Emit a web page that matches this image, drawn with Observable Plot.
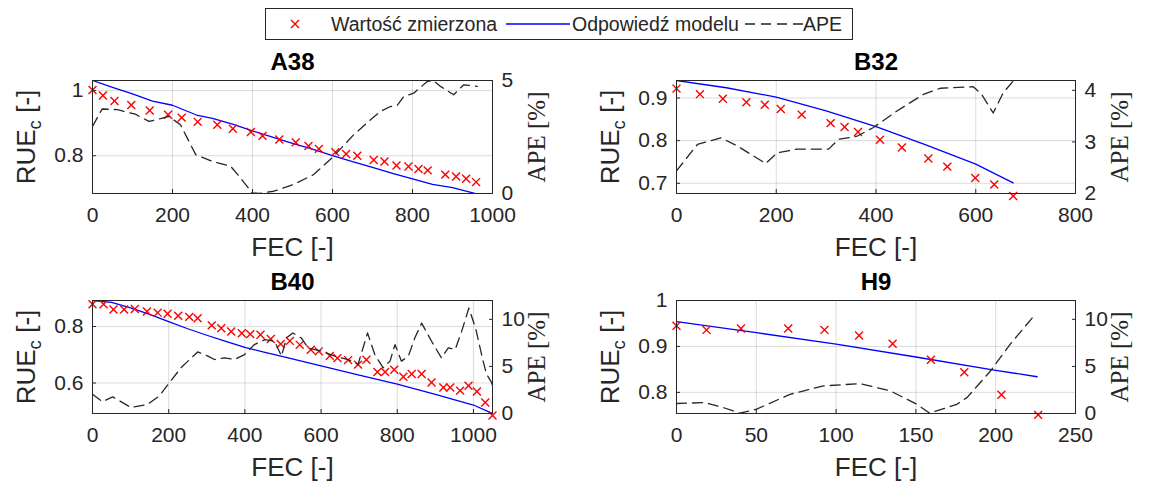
<!DOCTYPE html>
<html><head><meta charset="utf-8">
<script src="https://cdn.jsdelivr.net/npm/d3@7"></script>
<script src="https://cdn.jsdelivr.net/npm/@observablehq/plot@0.6"></script>
<style>
body{margin:0;background:#fff;}
#fig{position:relative;width:1149px;height:486px;background:#fff;font-family:"Liberation Sans",Arial,sans-serif;color:#262626;overflow:hidden;}
#fig svg{position:absolute;}
.leg{position:absolute;font-size:19.5px;line-height:20px;white-space:nowrap;color:#262626;}
</style></head>
<body><div id="fig"></div>
<script>
// ---------- A38 ----------
const a38MeasFec = [0, 26, 55, 97, 143, 189, 223, 263, 312, 351, 396, 425, 467, 508, 540, 566, 607, 634, 662, 703, 730, 760, 790, 815, 838, 882, 909, 934, 959];
const a38MeasRue = [1.002, 0.985, 0.968, 0.956, 0.939, 0.926, 0.917, 0.904, 0.895, 0.883, 0.873, 0.861, 0.850, 0.841, 0.830, 0.821, 0.811, 0.805, 0.800, 0.787, 0.782, 0.770, 0.767, 0.759, 0.755, 0.742, 0.736, 0.729, 0.719];
const a38ModelFec = [0, 50, 100, 150, 200, 260, 300, 350, 400, 450, 500, 550, 600, 650, 700, 750, 800, 850, 900, 960];
const a38ModelRue = [1.031, 1.010, 0.990, 0.968, 0.955, 0.925, 0.915, 0.897, 0.876, 0.857, 0.838, 0.820, 0.800, 0.782, 0.764, 0.746, 0.729, 0.712, 0.702, 0.683];
const a38ApeFec = [0, 24, 62, 107, 141, 170, 191, 220, 258, 303, 345, 370, 399, 416, 453, 503, 553, 603, 653, 695, 720, 745, 762, 778, 803, 837, 853, 870, 903, 928, 962];
const a38Ape = [2.97, 3.74, 3.71, 3.51, 3.19, 3.31, 3.41, 3.04, 1.72, 1.40, 1.21, 0.69, 0.03, 0.0, 0.10, 0.40, 0.84, 1.65, 2.60, 3.26, 3.63, 3.85, 3.90, 4.29, 4.44, 4.96, 4.99, 4.74, 4.37, 4.81, 4.74];

// ---------- B32 ----------
const b32MeasFec = [0, 47, 93, 140, 177, 209, 251, 309, 337, 364, 408, 452, 505, 543, 599, 637, 675];
const b32MeasRue = [0.922, 0.909, 0.898, 0.890, 0.884, 0.874, 0.861, 0.841, 0.832, 0.820, 0.802, 0.784, 0.758, 0.739, 0.7125, 0.697, 0.670];
const b32ModelFec = [0, 100, 200, 300, 400, 500, 600, 675];
const b32ModelRue = [0.941, 0.924, 0.902, 0.870, 0.833, 0.790, 0.745, 0.701];
const b32ApeFec = [0, 42, 89, 122, 179, 202, 242, 305, 325, 362, 395, 442, 495, 529, 595, 612, 635, 655, 675];
const b32Ape = [2.44, 2.95, 3.08, 2.92, 2.58, 2.79, 2.86, 2.86, 3.05, 3.11, 3.28, 3.60, 3.92, 4.04, 4.07, 3.92, 3.56, 3.95, 4.18];

// ---------- B40 ----------
const b40MeasFec = [0, 29, 55, 83, 111, 143, 171, 197, 225, 254, 276, 313, 338, 364, 392, 414, 441, 468, 494, 518, 544, 573, 594, 623, 643, 671, 697, 719, 748, 768, 792, 816, 838, 864, 890, 921, 939, 965, 987, 1009, 1031, 1050];
const b40MeasRue = [0.879, 0.879, 0.860, 0.860, 0.862, 0.853, 0.849, 0.845, 0.838, 0.834, 0.829, 0.804, 0.794, 0.782, 0.776, 0.773, 0.771, 0.756, 0.738, 0.749, 0.735, 0.718, 0.712, 0.696, 0.688, 0.681, 0.665, 0.682, 0.639, 0.639, 0.647, 0.622, 0.632, 0.632, 0.602, 0.584, 0.584, 0.573, 0.590, 0.570, 0.531, 0.485];
const b40ModelFec = [0, 50, 100, 150, 200, 250, 300, 350, 400, 450, 500, 600, 700, 800, 900, 1000, 1050];
const b40ModelRue = [0.892, 0.885, 0.866, 0.843, 0.817, 0.792, 0.769, 0.747, 0.726, 0.709, 0.693, 0.661, 0.628, 0.596, 0.560, 0.522, 0.492];
const b40ApeFec = [0, 26, 53, 79, 101, 145, 175, 202, 232, 276, 303, 320, 346, 373, 399, 425, 452, 478, 496, 509, 526, 548, 566, 601, 636, 671, 697, 722, 741, 763, 781, 794, 811, 829, 846, 864, 890, 916, 934, 952, 969, 988, 1006, 1025, 1034, 1047, 1050];
const b40Ape = [2.04, 1.26, 1.76, 1.16, 0.63, 0.98, 1.86, 3.27, 4.85, 6.54, 6.09, 5.73, 5.91, 5.73, 6.26, 7.32, 7.84, 7.67, 6.09, 8.02, 8.55, 8.02, 6.96, 6.61, 6.09, 5.73, 5.21, 8.55, 6.26, 4.85, 5.56, 7.32, 5.56, 6.09, 8.02, 9.60, 7.67, 5.91, 6.97, 6.79, 8.72, 11.2, 9.0, 5.63, 4.22, 3.34, 3.0];

// ---------- H9 ----------
const h9MeasFec = [0, 18.8, 40.4, 70, 92.7, 114.4, 135.4, 159.4, 180.3, 203.6, 226.6];
const h9MeasRue = [0.945, 0.936, 0.939, 0.939, 0.936, 0.924, 0.906, 0.871, 0.844, 0.795, 0.751];
const h9ModelFec = [0, 50, 100, 150, 200, 226];
const h9ModelRue = [0.954, 0.930, 0.905, 0.877, 0.848, 0.834];
const h9ApeFec = [0, 17.8, 29.3, 39.7, 50.2, 71.1, 92, 115, 134, 150.6, 158.6, 175.7, 182, 196.7, 209, 223.8];
const h9Ape = [1.06, 1.16, 0.63, 0.03, 0.46, 2.04, 2.93, 3.17, 2.40, 0.98, 0.03, 0.98, 1.69, 4.51, 7.34, 10.34];

// ---------- tick labels ----------
const a38XTicks = [0, 200, 400, 600, 800, 1000], a38YTicks = [0.8, 1], a38ApeTicks = [0, 5];
const b32XTicks = [0, 200, 400, 600, 800], b32YTicks = [0.7, 0.8, 0.9], b32ApeTicks = [2, 3, 4];
const b40XTicks = [0, 200, 400, 600, 800, 1000], b40YTicks = [0.6, 0.8], b40ApeTicks = [0, 5, 10];
const h9XTicks = [0, 50, 100, 150, 200, 250], h9YTicks = [0.8, 0.9, 1], h9ApeTicks = [0, 5, 10];

const panelTitles = ["A38", "B32", "B40", "H9"];
const legendLabels = ["Wartość zmierzona", "Odpowiedź modelu", "APE"];
const xLabel = "FEC [-]", yLabel = "RUE_c [-]", apeLabel = "APE [%]";

const zip = (xs, ys, kx, ky) => xs.map((v, i) => ({[kx]: v, [ky]: ys[i]}));

const panels = [
  {title: panelTitles[0], meas: zip(a38MeasFec, a38MeasRue, "fec", "rue"), model: zip(a38ModelFec, a38ModelRue, "fec", "rue"), ape: zip(a38ApeFec, a38Ape, "fec", "ape"),
   xDomain: [0, 1000], yDomain: [0.684, 1.031], apeDomain: [0, 5], xTicks: a38XTicks, yTicks: a38YTicks, apeTicks: a38ApeTicks,
   left: 0, top: 40, width: 574, height: 230, ml: 92, mr: 82, mt: 40, mb: 77},
  {title: panelTitles[1], meas: zip(b32MeasFec, b32MeasRue, "fec", "rue"), model: zip(b32ModelFec, b32ModelRue, "fec", "rue"), ape: zip(b32ApeFec, b32Ape, "fec", "ape"),
   xDomain: [0, 800], yDomain: [0.676, 0.941], apeDomain: [2, 4.19], xTicks: b32XTicks, yTicks: b32YTicks, apeTicks: b32ApeTicks,
   left: 584, top: 40, width: 565, height: 230, ml: 92, mr: 74, mt: 40, mb: 77},
  {title: panelTitles[2], meas: zip(b40MeasFec, b40MeasRue, "fec", "rue"), model: zip(b40ModelFec, b40ModelRue, "fec", "rue"), ape: zip(b40ApeFec, b40Ape, "fec", "ape"),
   xDomain: [0, 1050], yDomain: [0.492, 0.892], apeDomain: [0, 12], xTicks: b40XTicks, yTicks: b40YTicks, apeTicks: b40ApeTicks,
   left: 0, top: 260, width: 574, height: 226, ml: 92, mr: 82, mt: 40, mb: 73},
  {title: panelTitles[3], meas: zip(h9MeasFec, h9MeasRue, "fec", "rue"), model: zip(h9ModelFec, h9ModelRue, "fec", "rue"), ape: zip(h9ApeFec, h9Ape, "fec", "ape"),
   xDomain: [0, 250], yDomain: [0.754, 1.0], apeDomain: [0, 12], xTicks: h9XTicks, yTicks: h9YTicks, apeTicks: h9ApeTicks,
   left: 584, top: 260, width: 565, height: 226, ml: 92, mr: 74, mt: 40, mb: 73}
];

const fig = document.getElementById("fig");
const fmt = d => String(d);
const INK = "#262626";
const mid = {textAnchor: "middle", lineAnchor: "middle"};

for (const p of panels) {
  const common = {
    width: p.width, height: p.height,
    marginLeft: p.ml, marginRight: p.mr, marginTop: p.mt, marginBottom: p.mb,
    style: {background: "transparent", overflow: "visible", color: INK, fontFamily: '"Liberation Sans", Arial, sans-serif', maxWidth: "none"}
  };
  const base = Plot.plot({
    ...common,
    x: {domain: p.xDomain},
    y: {domain: p.yDomain},
    marks: [
      Plot.ruleX(p.xTicks, {stroke: "#000", strokeOpacity: 0.14}),
      Plot.ruleY(p.yTicks, {stroke: "#000", strokeOpacity: 0.14}),
      Plot.line(p.model, {x: "fec", y: "rue", stroke: "#0000ff", strokeWidth: 1.3, clip: true}),
      Plot.dot(p.meas, {x: "fec", y: "rue", symbol: "times", r: 3.7, stroke: "#ff0000", strokeWidth: 1.4}),
      Plot.axisX({ticks: p.xTicks, tickFormat: fmt, tickSize: -4, tickPadding: 18, fontSize: 21, label: null}),
      Plot.axisY({ticks: p.yTicks, tickFormat: fmt, tickSize: -4, tickPadding: 13, fontSize: 21, label: null}),
      Plot.text([p.title], {...mid, frameAnchor: "top", dy: -18, fontSize: 24, fontWeight: "bold", fill: "#000"}),
      Plot.text([xLabel], {...mid, frameAnchor: "bottom", dy: 54, fontSize: 26}),
      Plot.text([yLabel], {...mid, frameAnchor: "left", dx: -66, rotate: -90, fontSize: 26})
    ]
  });
  const over = Plot.plot({
    ...common,
    x: {domain: p.xDomain, axis: null},
    y: {domain: p.apeDomain},
    marks: [
      Plot.line(p.ape, {x: "fec", y: "ape", stroke: INK, strokeWidth: 1.3, strokeDasharray: "10,6", clip: true}),
      Plot.axisY({anchor: "right", ticks: p.apeTicks, tickFormat: fmt, tickSize: -4, tickPadding: 13, fontSize: 21, label: null}),
      Plot.text([apeLabel], {...mid, frameAnchor: "right", dx: 44, rotate: -90, fontSize: 25, fontFamily: '"Liberation Serif", "Times New Roman", serif'}),
      Plot.frame({stroke: INK, strokeWidth: 1})
    ]
  });
  for (const svg of [base, over]) {
    svg.style.left = p.left + "px";
    svg.style.top = p.top + "px";
    fig.appendChild(svg);
  }
  // subscript c in RUE_c
  base.querySelectorAll("text").forEach(t => {
    if (t.textContent === yLabel) {
      t.textContent = "";
      const ns = "http://www.w3.org/2000/svg";
      const a = document.createElementNS(ns, "tspan"); a.textContent = "RUE";
      const b = document.createElementNS(ns, "tspan"); b.textContent = "c"; b.setAttribute("dy", "0.35em"); b.setAttribute("font-size", "0.72em");
      const c = document.createElementNS(ns, "tspan"); c.textContent = " [-]"; c.setAttribute("dy", "-0.25em");
      t.append(a, b, c);
    }
  });
}

// ---------- legend (HTML) ----------
const leg = document.createElement("div");
leg.style.cssText = "position:absolute;left:265px;top:8px;width:588px;height:32px;border:1px solid #262626;box-sizing:border-box;background:#fff;";
fig.appendChild(leg);
const sw = (x, html) => { const s = document.createElement("div"); s.style.cssText = `position:absolute;left:${x}px;top:0;height:30px;`; s.innerHTML = html; leg.appendChild(s); };
sw(22, '<svg width="14" height="30" style="position:static"><path d="M3,11 L11,19 M11,11 L3,19" stroke="#ff0000" stroke-width="1.4"/></svg>');
sw(240, '<svg width="64" height="30" style="position:static"><line x1="0" y1="15" x2="64" y2="15" stroke="#0000ff" stroke-width="1.3"/></svg>');
sw(479, '<svg width="58" height="30" style="position:static"><line x1="0" y1="15" x2="58" y2="15" stroke="#262626" stroke-width="1.3" stroke-dasharray="10,6"/></svg>');
const lt = (x, s) => { const e = document.createElement("span"); e.className = "leg"; e.style.left = x + "px"; e.style.top = "5px"; e.textContent = s; leg.appendChild(e); };
lt(65, legendLabels[0]);
lt(306, legendLabels[1]);
lt(537, legendLabels[2]);
</script>
</body></html>
